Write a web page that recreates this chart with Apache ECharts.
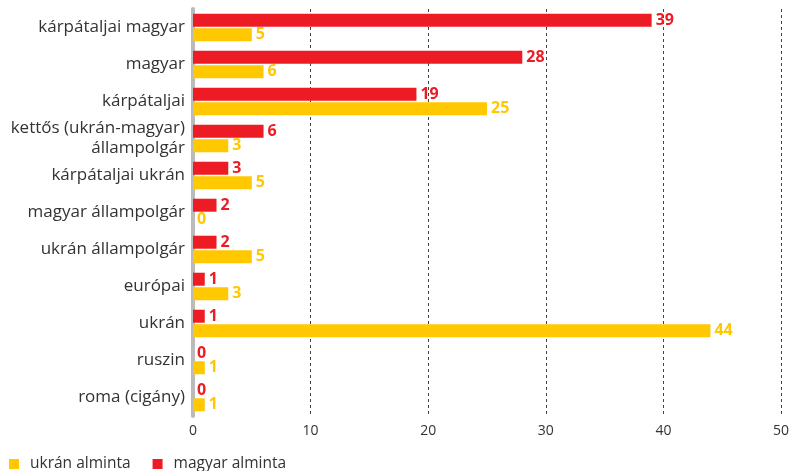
<!DOCTYPE html>
<html><head><meta charset="utf-8">
<script src="https://cdn.jsdelivr.net/npm/echarts@6/dist/echarts.min.js"></script>
<style>html,body{margin:0;padding:0;background:#fff}#c{width:792px;height:471px}</style>
</head><body><div id="c"></div>
<script>
const categories = ['kárpátaljai magyar','magyar','kárpátaljai','kettős (ukrán-magyar)\nállampolgár','kárpátaljai ukrán','magyar állampolgár','ukrán állampolgár','európai','ukrán','ruszin','roma (cigány)'];
const magyarAlminta = [39, 28, 19, 6, 3, 2, 2, 1, 1, 0, 0];
const ukranAlminta = [5, 6, 25, 3, 5, 0, 5, 3, 44, 1, 1];
const xTicks = [0, 10, 20, 30, 40, 50];
const FONT = '"Open Sans", "Noto Sans", sans-serif';
const chart = echarts.init(document.getElementById('c'), null, {renderer:'canvas'});
chart.setOption({
  animation: false,
  textStyle: {fontFamily: FONT},
  grid: {left: 193, right: 11, top: 9, bottom: 55, containLabel: false},
  legend: {
    data: ['ukrán alminta', 'magyar alminta'],
    left: 9, bottom: -1, padding: 0, icon: 'rect', itemWidth: 10, itemHeight: 10, itemGap: 22,
    textStyle: {fontSize: 15.5, color: '#333', fontFamily: FONT, padding: [0, 0, 0, 6]}
  },
  xAxis: {
    type: 'value', min: xTicks[0], max: xTicks[xTicks.length-1], interval: 10,
    axisLine: {show: false}, axisTick: {show: false},
    axisLabel: {color: '#333', fontSize: 14, margin: 8, fontFamily: FONT},
    splitLine: {show: true, lineStyle: {color: '#444', type: [3, 3], width: 1}}
  },
  yAxis: {
    type: 'category', data: categories, inverse: true,
    axisLine: {show: true, lineStyle: {color: '#bbb', width: 4}},
    axisTick: {show: false},
    axisLabel: {color: '#333', fontSize: 17, margin: 8, fontFamily: FONT, lineHeight: 20, align: 'right'}
  },
  series: [
    {name: 'magyar alminta', type: 'bar', data: magyarAlminta, barWidth: 13, barGap: '12%',
     itemStyle: {color: '#ED1C24'},
     label: {show: true, position: 'right', distance: 4, color: '#ED1C24', fontSize: 16, fontWeight: 'bold', fontFamily: FONT}},
    {name: 'ukrán alminta', type: 'bar', data: ukranAlminta, barWidth: 13, barGap: '12%',
     itemStyle: {color: '#FFC800'},
     label: {show: true, position: 'right', distance: 4, color: '#FFC800', fontSize: 16, fontWeight: 'bold', fontFamily: FONT}}
  ]
});
</script></body></html>
